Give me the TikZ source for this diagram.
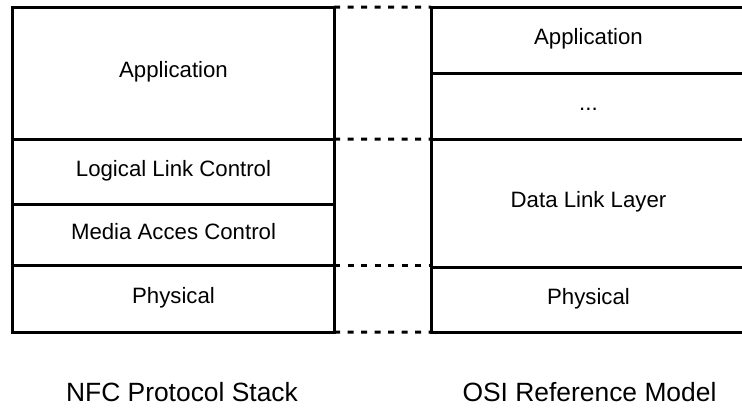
\documentclass[tikz,border=0pt]{standalone}
\usepackage{fontspec}
\setmainfont{Liberation Sans}
\begin{document}
\begin{tikzpicture}[x=1bp, y=-1bp,
  layer/.style={draw, line width=3bp, inner sep=0pt, outer sep=0pt,
    font=\fontsize{22.3}{26}\selectfont, text height=16bp, text depth=7bp},
  leftlayer/.style={layer, minimum width=321bp},
  rightlayer/.style={layer, minimum width=315bp},
  link/.style={line width=3bp, dash pattern=on 6bp off 7.5bp},
  caption/.style={anchor=base, inner sep=0pt, font=\fontsize{26.5}{30}\selectfont}]
\clip (0,0) rectangle (742,407);
\fill[white] (0,0) rectangle (742,407);

% NFC protocol stack
\node[leftlayer, minimum height=132bp] (lapp) at (173.5,73)    {Application};
\node[leftlayer, minimum height=65bp]  (llc)  at (173.5,171.5) {Logical Link Control};
\node[leftlayer, minimum height=61bp]  (mac)  at (173.5,234.5) {Media Acces Control};
\node[leftlayer, minimum height=67bp]  (lphy) at (173.5,298.5) {Physical};

% OSI reference model
\node[rightlayer, minimum height=66bp]    (rapp)  at (588.5,40)     {Application};
\node[rightlayer, minimum height=66bp]    (rdots) at (588.5,106)    {...};
\node[rightlayer, minimum height=128.5bp] (rdll)  at (588.5,203.25) {Data Link Layer};
\node[rightlayer, minimum height=64.5bp]  (rphy)  at (588.5,299.75) {Physical};

% correspondence between the two stacks
\draw[link] (lapp.north east) -- (rapp.north west);
\draw[link] (lapp.south east) -- (rdots.south west);
\draw[link] (mac.south east) -- (mac.south east -| rdll.west);
\draw[link] (lphy.south east) -- (rphy.south west);

% captions
\node[caption] (nfc) at (182,401.7)   {NFC Protocol Stack};
\node[caption] (osi) at (589.5,401.7) {OSI Reference Model};
\end{tikzpicture}
\end{document}
